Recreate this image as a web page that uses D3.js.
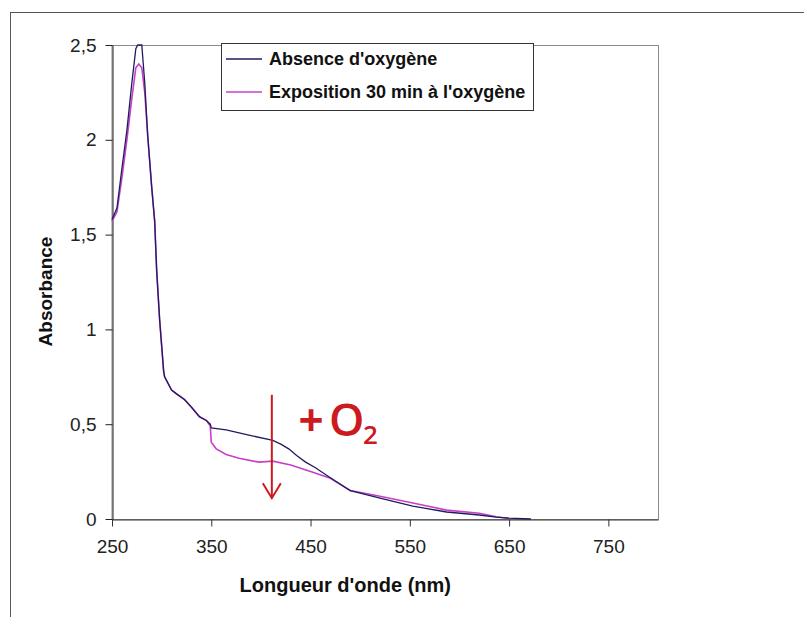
<!DOCTYPE html>
<html>
<head>
<meta charset="utf-8">
<script src="https://cdn.jsdelivr.net/npm/d3@7"></script>
<style>
  html, body { margin: 0; padding: 0; background: #fff; }
  svg { display: block; }
</style>
</head>
<body>
<svg id="chart" width="804" height="617"></svg>
<script>
// ---- Data ----
const seriesNames = ["Absence d'oxygène", "Exposition 30 min à l'oxygène"];

const absenceWavelength = [250, 255, 260, 265, 270, 274, 276, 280, 283, 286, 290, 293, 295, 298, 302, 303, 310, 315, 323, 330, 338, 345, 349, 350, 365, 390, 412, 420, 428, 436, 445, 455, 465, 475, 490, 520, 553, 587, 620, 637, 650, 672];
const absenceValues     = [1.58, 1.64, 1.85, 2.05, 2.30, 2.48, 2.50, 2.50, 2.30, 2.02, 1.75, 1.57, 1.31, 1.05, 0.78, 0.75, 0.68, 0.66, 0.63, 0.59, 0.54, 0.52, 0.50, 0.48, 0.47, 0.44, 0.415, 0.395, 0.37, 0.335, 0.30, 0.27, 0.235, 0.20, 0.15, 0.11, 0.068, 0.037, 0.021, 0.01, 0.005, 0.0];

const expositionWavelength = [250, 255, 260, 265, 270, 274, 277, 280, 283, 286, 290, 293, 295, 298, 302, 303, 310, 315, 323, 330, 338, 345, 349, 350, 355, 365, 378, 398, 412, 430, 450, 470, 490, 520, 553, 587, 620, 637, 650];
const expositionValues     = [1.57, 1.62, 1.80, 2.00, 2.22, 2.38, 2.40, 2.38, 2.25, 2.02, 1.75, 1.57, 1.31, 1.05, 0.78, 0.75, 0.68, 0.66, 0.63, 0.59, 0.54, 0.52, 0.49, 0.405, 0.37, 0.34, 0.32, 0.30, 0.305, 0.285, 0.25, 0.215, 0.15, 0.12, 0.084, 0.047, 0.03, 0.012, 0.003];

const xTicks = [250, 350, 450, 550, 650, 750];
const yTicks = [0, 0.5, 1, 1.5, 2, 2.5];
const yTickLabels = ["0", "0,5", "1", "1,5", "2", "2,5"];

const xTitle = "Longueur d'onde (nm)";
const yTitle = "Absorbance";

// ---- Layout ----
const svg = d3.select("#chart");
const plot = { left: 112, right: 658, top: 45, bottom: 519 };
const x = d3.scaleLinear().domain([250, 800]).range([plot.left, plot.right]);
const y = d3.scaleLinear().domain([0, 2.5]).range([plot.bottom, plot.top]);

const colors = ["#1d1d5e", "#c740c7"];

// outer frame
svg.append("rect")
  .attr("x", 10.5).attr("y", 12.5).attr("width", 820).attr("height", 640)
  .attr("fill", "none").attr("stroke", "#555").attr("stroke-width", 1);

// plot area border (top & right grey)
svg.append("rect")
  .attr("x", plot.left).attr("y", plot.top + 0.5)
  .attr("width", plot.right - plot.left + 0.5).attr("height", plot.bottom - plot.top)
  .attr("fill", "#fff").attr("stroke", "#8a8a8a").attr("stroke-width", 1);

const font = "Liberation Sans, Arial, sans-serif";

// x axis
const xAxis = svg.append("g")
  .attr("transform", `translate(0,${plot.bottom + 0.5})`)
  .call(d3.axisBottom(x).tickValues(xTicks).tickSize(7).tickPadding(13).tickSizeOuter(0));
xAxis.select(".domain").attr("stroke", "#333");
xAxis.selectAll(".tick line").attr("stroke", "#333");
xAxis.selectAll(".tick text")
  .attr("font-family", font).attr("font-size", 19).attr("fill", "#222");

// y axis
const yAxis = svg.append("g")
  .attr("transform", `translate(${plot.left + 0.5},0)`)
  .call(d3.axisLeft(y).tickValues(yTicks).tickFormat((d, i) => yTickLabels[i]).tickSize(7).tickPadding(9).tickSizeOuter(0));
yAxis.select(".domain").attr("stroke", "#222");
yAxis.selectAll(".tick line").attr("stroke", "#222");
yAxis.selectAll(".tick text")
  .attr("font-family", font).attr("font-size", 19).attr("fill", "#222");

// lines
const line = d3.line().x(d => x(d[0])).y(d => y(d[1]));
const absData = absenceWavelength.map((w, i) => [w, absenceValues[i]]);
const expData = expositionWavelength.map((w, i) => [w, expositionValues[i]]);

svg.append("path").datum(expData)
  .attr("d", line).attr("fill", "none").attr("stroke", colors[1]).attr("stroke-width", 1.6);
svg.append("path").datum(absData)
  .attr("d", line).attr("fill", "none").attr("stroke", colors[0]).attr("stroke-width", 1.3);

// axis titles
svg.append("text")
  .attr("x", x(485)).attr("y", 592)
  .attr("text-anchor", "middle")
  .attr("font-family", font).attr("font-weight", "bold").attr("font-size", 20).attr("fill", "#111")
  .text(xTitle);
svg.append("text")
  .attr("transform", `translate(52,${(y(1.5)+y(0.9))/2}) rotate(-90)`)
  .attr("text-anchor", "middle")
  .attr("font-family", font).attr("font-weight", "bold").attr("font-size", 19).attr("fill", "#111")
  .text(yTitle);

// legend
const lg = svg.append("g");
lg.append("rect")
  .attr("x", 221.5).attr("y", 43.5).attr("width", 312).attr("height", 67)
  .attr("fill", "#fff").attr("stroke", "#333").attr("stroke-width", 1);
seriesNames.forEach((name, i) => {
  const ly = 59 + i * 33;
  lg.append("line").attr("x1", 226).attr("x2", 262).attr("y1", ly).attr("y2", ly)
    .attr("stroke", colors[i]).attr("stroke-width", 1.3);
  lg.append("text").attr("x", 269).attr("y", ly + 6)
    .attr("font-family", font).attr("font-weight", "bold").attr("font-size", 18).attr("fill", "#111")
    .text(name);
});

// annotation: red arrow + O2
const red = "#cc1a21";
const ax = x(411);
const aTop = y(0.655), aBot = y(0.11);
svg.append("line").attr("x1", ax).attr("x2", ax).attr("y1", aTop).attr("y2", aBot)
  .attr("stroke", red).attr("stroke-width", 2);
svg.append("path")
  .attr("d", `M${ax - 9},${aBot - 15} L${ax},${aBot} L${ax + 9},${aBot - 15}`)
  .attr("fill", "none").attr("stroke", red).attr("stroke-width", 2);
const annFont = "Open Sans, Noto Sans, sans-serif";
svg.append("text").attr("x", 311).attr("y", 436).attr("text-anchor", "middle")
  .attr("font-family", annFont).attr("font-weight", 700).attr("font-size", 44).attr("fill", red).text("+");
svg.append("text").attr("x", 329).attr("y", 436)
  .attr("font-family", annFont).attr("font-weight", 600).attr("font-size", 45).attr("fill", red).text("O");
svg.append("text").attr("x", 363).attr("y", 444)
  .attr("font-family", annFont).attr("font-weight", 600).attr("font-size", 26).attr("fill", red).text("2");
</script>
</body>
</html>
